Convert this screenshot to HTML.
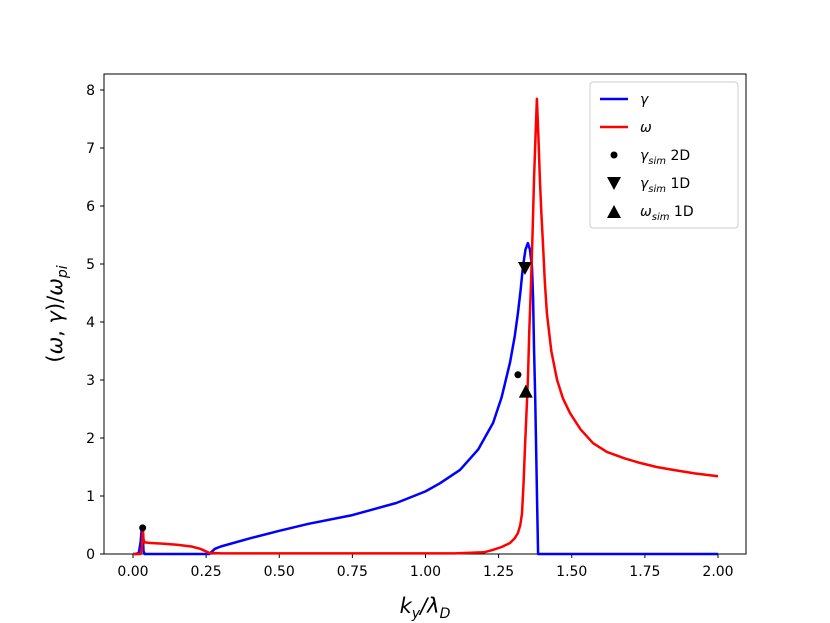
<!DOCTYPE html>
<html><head><meta charset="utf-8"><style>
body{margin:0;background:#fff}
svg{display:block}
text{font-family:"DejaVu Sans","Liberation Sans",sans-serif;fill:#000}
</style></head><body>
<svg id="chart" width="830" height="623">
<rect x="104" y="74" width="642" height="480" fill="none" stroke="#000" stroke-width="1"/>
<g id="ticks"></g>
<g id="series"></g>
<text x="425" y="613" font-size="21" text-anchor="middle" font-style="italic">k<tspan font-size="14" dy="5">y</tspan><tspan dy="-5">/λ</tspan><tspan font-size="14" dy="5">D</tspan></text>
<text transform="translate(62,314) rotate(-90)" font-size="21" text-anchor="middle">(<tspan font-style="italic">ω</tspan>, <tspan font-style="italic">γ</tspan>)/<tspan font-style="italic">ω</tspan><tspan font-size="14" dy="5" font-style="italic">pi</tspan></text>
<g>
<rect x="590" y="82" width="148" height="146" rx="3" fill="#fff" fill-opacity="0.8" stroke="#ccc"/>
<g><line x1="600" y1="99" x2="628" y2="99" stroke="#00f" stroke-width="2.5"/><text x="640" y="104" font-size="14" font-style="italic">γ</text></g>
<g><line x1="600" y1="127" x2="628" y2="127" stroke="#f00" stroke-width="2.5"/><text x="640" y="132" font-size="14" font-style="italic">ω</text></g>
<g><circle cx="614" cy="155" r="3.5"/><text x="640" y="160" font-size="14"><tspan font-style="italic">γ</tspan><tspan font-size="10" dy="4" font-style="italic">sim</tspan><tspan dy="-4"> 2D</tspan></text></g>
<g><path d="M607,177 L621,177 L614,190 Z"/><text x="640" y="188" font-size="14"><tspan font-style="italic">γ</tspan><tspan font-size="10" dy="4" font-style="italic">sim</tspan><tspan dy="-4"> 1D</tspan></text></g>
<g><path d="M607,218 L621,218 L614,205 Z"/><text x="640" y="216" font-size="14"><tspan font-style="italic">ω</tspan><tspan font-size="10" dy="4" font-style="italic">sim</tspan><tspan dy="-4"> 1D</tspan></text></g>
</g>
</svg>
<script>
const xTicks=[0,0.25,0.5,0.75,1.0,1.25,1.5,1.75,2.0];
const xTickLabels=["0.00","0.25","0.50","0.75","1.00","1.25","1.50","1.75","2.00"];
const yTicks=[0,1,2,3,4,5,6,7,8];
const gammaK=[0,0.01,0.02,0.026,0.03,0.033,0.036,0.04,0.26,0.265,0.28,0.3,0.4,0.5,0.6,0.75,0.9,1.0,1.05,1.118,1.18,1.231,1.26,1.289,1.305,1.316,1.325,1.333,1.342,1.35,1.357,1.364,1.368,1.371,1.375,1.378,1.382,1.385,2.0];
const gammaV=[0,0,0.02,0.2,0.45,0.4,0.05,0,0,0.02,0.09,0.13,0.27,0.4,0.52,0.67,0.88,1.08,1.22,1.45,1.8,2.26,2.7,3.3,3.75,4.15,4.55,4.95,5.25,5.36,5.25,4.95,4.4,3.57,2.7,1.85,0.8,0,0];
const omegaK=[0,0.025,0.03,0.034,0.036,0.04,0.06,0.1,0.15,0.2,0.23,0.26,0.3,1.1,1.2,1.23,1.26,1.289,1.305,1.316,1.324,1.33,1.335,1.34,1.345,1.35,1.355,1.361,1.366,1.371,1.376,1.381,1.386,1.391,1.396,1.402,1.408,1.415,1.43,1.45,1.47,1.494,1.53,1.573,1.62,1.68,1.733,1.79,1.846,1.92,2.0];
const omegaV=[0,0,0.05,0.45,0.25,0.2,0.19,0.18,0.16,0.13,0.09,0.02,0.01,0.01,0.03,0.07,0.12,0.19,0.27,0.36,0.5,0.7,1.2,1.85,2.4,3.0,3.85,4.7,5.55,6.45,7.2,7.85,7.2,6.45,5.9,5.3,4.7,4.15,3.5,3.0,2.68,2.43,2.15,1.91,1.76,1.65,1.57,1.5,1.45,1.39,1.34];
const sim2dK=[0.033,1.316];
const sim2dV=[0.45,3.09];
const sim1dGammaK=[1.34];
const sim1dGammaV=[4.93];
const sim1dOmegaK=[1.343];
const sim1dOmegaV=[2.8];
const NS="http://www.w3.org/2000/svg";
const X=k=>133+k*292.5, Y=v=>554-v*58;
const tg=document.getElementById('ticks'), sg=document.getElementById('series');
function mk(tag,attrs,parent){const e=document.createElementNS(NS,tag);for(const a in attrs)e.setAttribute(a,attrs[a]);parent.appendChild(e);return e;}
xTicks.forEach((t,i)=>{
 const l=mk('line',{x1:X(t),x2:X(t),y1:554,y2:558,stroke:'#000'},tg);
 
 
 const tx=mk('text',{x:X(t),y:576,'font-size':14,'text-anchor':'middle'},tg);tx.textContent=xTickLabels[i];
 
 
});
yTicks.forEach(t=>{
 const l=mk('line',{x1:100,x2:104,y1:Y(t),y2:Y(t),stroke:'#000'},tg);
 
 
 const tx=mk('text',{x:95,y:Y(t)+5,'font-size':14,'text-anchor':'end'},tg);tx.textContent=t;
 
 
});
function line(ks,vs,c,name){
 const d=ks.map((k,i)=>(i?'L':'M')+X(k).toFixed(1)+','+Y(vs[i]).toFixed(1)).join(' ');
 const p=mk('path',{d:d,fill:'none',stroke:c,'stroke-width':2.5,'stroke-linejoin':'round'},sg);
 
 
}
line(gammaK,gammaV,'#00f','gamma-line');
line(omegaK,omegaV,'#f00','omega-line');
sim2dK.forEach((k,i)=>{const c=mk('circle',{cx:X(k),cy:Y(sim2dV[i]),r:3.5},sg);
 
 });
sim1dGammaK.forEach((k,i)=>{const x=X(k),y=Y(sim1dGammaV[i]);const p=mk('path',{d:`M${x-7},${y-6} L${x+7},${y-6} L${x},${y+7} Z`},sg);
 
 });
sim1dOmegaK.forEach((k,i)=>{const x=X(k),y=Y(sim1dOmegaV[i]);const p=mk('path',{d:`M${x-7},${y+6} L${x+7},${y+6} L${x},${y-7} Z`},sg);
 
 });
</script>
</body></html>
